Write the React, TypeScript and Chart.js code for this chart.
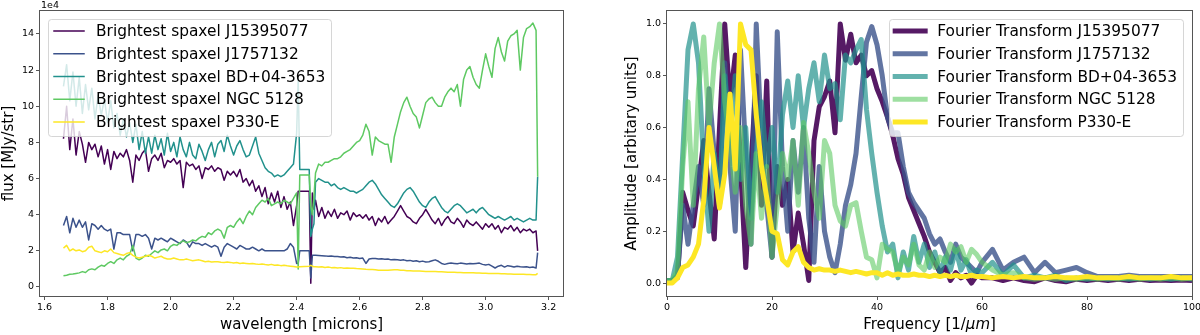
import React, { useEffect, useRef } from "react";
import { Chart, registerables } from "chart.js";
Chart.register(...registerables);

// ---------- Left panel: spectra (flux in units of 1e4 MJy/str) ----------
const wavelength = [
  1.66, 1.67, 1.68, 1.69, 1.70, 1.71, 1.72, 1.73, 1.74, 1.75,
  1.76, 1.77, 1.78, 1.79, 1.80, 1.81, 1.82, 1.83, 1.84, 1.85,
  1.86, 1.87, 1.88, 1.89, 1.90, 1.91, 1.92, 1.93, 1.94, 1.95,
  1.96, 1.97, 1.98, 1.99, 2.00, 2.01, 2.02, 2.03, 2.04, 2.05,
  2.06, 2.07, 2.08, 2.09, 2.10, 2.11, 2.12, 2.13, 2.14, 2.15,
  2.16, 2.17, 2.18, 2.19, 2.20, 2.21, 2.22, 2.23, 2.24, 2.25,
  2.26, 2.27, 2.28, 2.29, 2.30, 2.31, 2.32, 2.33, 2.34, 2.35,
  2.36, 2.37, 2.38, 2.39, 2.40,
  2.405, 2.41, 2.44, 2.445, 2.45, 2.455,
  2.46, 2.47, 2.48, 2.49, 2.50, 2.51, 2.52, 2.53, 2.54, 2.55,
  2.56, 2.57, 2.58, 2.59, 2.60, 2.61, 2.62, 2.63, 2.64, 2.65,
  2.66, 2.67, 2.68, 2.69, 2.70, 2.71, 2.72, 2.73, 2.74, 2.75,
  2.76, 2.77, 2.78, 2.79, 2.80, 2.81, 2.82, 2.83, 2.84, 2.85,
  2.86, 2.87, 2.88, 2.89, 2.90, 2.91, 2.92, 2.93, 2.94, 2.95,
  2.96, 2.97, 2.98, 2.99, 3.00, 3.01, 3.02, 3.03, 3.04, 3.05,
  3.06, 3.07, 3.08, 3.09, 3.10, 3.11, 3.12, 3.13, 3.14, 3.15,
  3.16, 3.165,
];

const fluxJ15395077 = [
  8.2, 10.0, 7.6, 9.3, 7.3, 8.6, 7.9, 6.9, 8.0, 7.6,
  7.9, 7.2, 7.8, 6.8, 7.6, 6.5, 7.5, 7.1, 7.4, 7.2,
  7.6, 7.0, 5.8, 7.3, 7.0, 7.4, 7.6, 6.4, 7.1, 7.3,
  7.0, 7.4, 6.6, 7.0, 6.9, 7.1, 6.8, 7.0, 5.5, 6.9,
  6.7, 6.8, 6.5, 6.7, 6.0, 6.6, 6.5, 6.7, 6.4, 6.6,
  6.5, 5.9, 6.4, 6.2, 6.4, 6.1, 6.5, 5.8, 6.0, 5.6,
  5.9, 5.3, 5.6, 5.0, 5.5, 4.6, 5.2, 4.7, 5.3, 4.4,
  5.0, 4.3, 4.7, 3.4, 4.5,
  5.3, 5.3, 5.3, 0.2, 5.2, 4.3,
  4.8, 3.9, 4.4, 3.8, 4.2, 3.9, 4.3, 3.8, 4.1, 4.0,
  4.2, 3.7, 4.1, 3.9, 4.0, 3.8, 4.0, 3.7, 3.9, 3.4,
  3.8, 3.6, 3.9, 3.5, 3.7, 3.9, 4.2, 4.5, 4.2, 3.9,
  3.8, 3.6, 3.5, 3.8, 4.0, 4.3, 4.0, 3.7, 3.5, 3.8,
  3.4, 3.7, 3.9, 3.6, 3.5, 3.8, 3.6, 3.3, 3.7, 3.5,
  3.4, 3.6, 3.4, 3.2, 3.5, 3.3, 3.5, 3.2, 3.4, 3.0,
  3.3, 3.2, 3.4, 3.1, 3.3, 3.0, 3.2, 3.1, 3.2, 3.0,
  3.1, 2.0,
];

const fluxJ1757132 = [
  3.4, 3.9, 3.0, 3.8, 3.3, 3.7, 3.3, 3.6, 2.6, 3.5,
  3.4, 3.2, 3.4, 3.2, 3.1, 3.2, 2.1, 3.0, 3.0, 2.9,
  2.9, 2.9, 2.0, 2.9, 2.9, 2.8, 2.9, 2.7, 2.1, 2.7,
  2.6, 2.7, 2.6, 2.5, 2.7, 2.6, 2.5, 2.4, 2.6, 2.5,
  2.2, 2.5, 2.4, 2.4, 2.3, 2.4, 2.3, 2.2, 2.3, 2.2,
  1.7, 2.2, 2.4, 2.3, 2.2, 2.1, 2.3, 2.2, 2.1, 2.1,
  2.2, 2.1, 2.0, 2.1, 2.0, 2.0, 2.0, 2.0, 2.0, 2.0,
  2.0, 2.1, 2.4, 2.2, 1.3,
  1.3, 2.0, 2.0, 0.5, 1.75, 1.75,
  1.75, 1.74, 1.73, 1.72, 1.7, 1.71, 1.69, 1.68, 1.66, 1.67,
  1.62, 1.64, 1.6, 1.62, 1.58, 1.6, 1.3, 1.55, 1.57, 1.58,
  1.55, 1.56, 1.53, 1.55, 1.5, 1.52, 1.5, 1.48, 1.5, 1.45,
  1.47, 1.42, 1.45, 1.4, 1.43, 1.38, 1.4, 1.45, 1.5, 1.42,
  1.3, 1.25, 1.3, 1.32, 1.3, 1.28, 1.32, 1.3, 1.27, 1.3,
  1.28, 1.3, 1.32, 1.25, 1.22, 1.25, 1.15, 1.05, 1.15, 1.2,
  1.1, 1.18, 1.15, 1.1, 1.15, 1.12, 1.1, 1.12, 1.08, 1.1,
  1.05, 1.9,
];

const fluxBD0403653 = [
  11.1, 12.3, 10.3, 11.9, 10.0, 11.6, 9.6, 11.2, 9.8, 11.0,
  9.3, 10.6, 9.5, 10.4, 9.1, 10.3, 8.8, 9.6, 8.4, 9.3,
  8.3, 9.1, 8.0, 9.0, 7.6, 8.6, 7.4, 8.3, 7.4, 8.4,
  7.6, 8.2, 7.3, 8.5, 7.5, 8.0, 7.2, 8.3, 7.6, 7.2,
  8.0, 7.3, 7.1, 7.9, 7.5, 7.0, 7.6, 8.0, 7.2, 7.9,
  8.1, 7.5, 8.4, 7.8, 7.3, 7.8, 8.1, 7.6, 7.2, 7.3,
  7.8, 8.3, 7.4, 7.0, 6.6, 6.4, 6.3, 6.1, 6.2, 6.1,
  6.2, 6.4, 6.6, 6.8, 8.5,
  11.5, 6.5, 6.5, 2.8, 3.2, 3.5,
  5.8, 6.0, 5.9, 5.8, 5.8, 5.6, 5.7, 5.5, 5.4, 5.5,
  5.4, 5.3, 5.3, 5.2, 5.3, 5.4, 5.6, 5.8, 5.9, 5.7,
  5.4, 5.1, 4.9, 4.7, 4.5, 4.4, 4.6, 4.9, 5.2, 5.4,
  5.5, 5.3, 5.0, 4.7, 4.5, 4.4, 4.7, 4.9, 5.0, 4.7,
  4.4, 4.2, 4.1, 4.3, 4.5, 4.6, 4.5, 4.3, 4.1, 4.2,
  4.3, 4.1, 4.3, 4.4, 4.2, 4.0, 3.9, 3.8, 3.9, 3.8,
  3.7, 3.8, 3.9, 3.7, 3.8, 3.7, 3.6, 3.7, 3.8, 3.7,
  3.7, 6.1,
];

const fluxNGC5128 = [
  0.62, 0.65, 0.7, 0.72, 0.75, 0.78, 0.85, 0.8, 0.95, 1.0,
  0.95, 1.1, 1.2, 1.15, 1.3, 1.4, 1.3, 1.5, 1.6, 1.5,
  1.7, 1.8, 2.3, 1.6, 1.5, 1.6, 1.75, 1.7, 1.85, 2.0,
  1.9, 2.05, 2.1, 2.0, 2.25, 2.35, 2.3, 2.45, 2.55, 2.45,
  2.5, 2.6, 2.55, 2.7, 2.8, 2.75, 3.0, 2.9, 3.1, 3.2,
  3.1, 2.7, 3.3, 3.4, 3.3, 3.6, 3.8, 3.5, 3.9, 4.2,
  4.0, 4.4, 4.6, 4.8, 4.7, 4.9, 4.5, 4.6, 4.7, 4.6,
  4.8, 4.7, 4.6, 4.9, 5.2,
  1.0, 6.2, 6.2, 4.5, 4.0, 5.0,
  6.3, 6.8, 6.7, 6.9, 6.9, 7.0, 7.1, 7.1, 7.2, 7.4,
  7.5, 7.6, 7.8, 8.0, 8.1, 8.4, 9.0, 8.6, 7.3, 8.3,
  8.1, 8.0, 7.9, 7.9, 6.9, 8.3, 9.0, 9.7, 10.2, 10.5,
  10.0, 9.6, 9.4, 8.8, 9.5, 10.2, 10.4, 10.5, 10.2, 10.0,
  10.0, 10.5, 10.8, 11.0, 10.8, 11.2, 10.0, 11.5, 12.0, 12.2,
  11.6, 11.2, 11.0, 12.0, 12.9, 12.2, 11.6, 13.2, 13.8, 13.0,
  12.5, 13.6, 13.9, 14.0, 14.2, 12.0, 13.8, 14.3, 14.4, 14.6,
  14.2, 6.1,
];

const fluxP330E = [
  2.15, 2.3, 2.0, 2.1, 2.0, 2.05, 1.95, 2.0, 2.2, 2.25,
  2.0, 1.95, 1.9, 2.0, 1.95, 2.1, 1.9, 1.85, 1.8, 1.75,
  1.85, 1.9, 1.75, 1.65, 1.6, 1.65, 1.7, 1.75, 1.7, 1.6,
  1.65, 1.7, 1.6, 1.55, 1.55, 1.6, 1.55, 1.5, 1.5, 1.55,
  1.5, 1.45, 1.48, 1.5, 1.45, 1.4, 1.42, 1.38, 1.4, 1.4,
  1.37, 1.35, 1.38, 1.36, 1.33, 1.35, 1.3, 1.32, 1.3, 1.28,
  1.3, 1.27, 1.25, 1.27, 1.24, 1.22, 1.25, 1.2, 1.22, 1.18,
  1.2, 1.17, 1.15, 1.13, 1.1,
  1.1, 1.12, 1.15, 1.2, 1.15, 1.12,
  1.12, 1.1, 1.12, 1.08, 1.1, 1.07, 1.08, 1.05, 1.07, 1.04,
  1.05, 1.03, 1.04, 1.02, 1.01, 1.0, 0.98, 0.97, 0.96, 0.95,
  0.92, 0.93, 0.92, 0.93, 0.94, 0.95, 0.95, 0.93, 0.92, 0.9,
  0.9, 0.89, 0.88, 0.88, 0.87, 0.86, 0.86, 0.85, 0.85, 0.84,
  0.84, 0.83, 0.82, 0.82, 0.81, 0.8, 0.8, 0.79, 0.79, 0.78,
  0.78, 0.77, 0.77, 0.76, 0.76, 0.75, 0.75, 0.74, 0.74, 0.73,
  0.73, 0.72, 0.72, 0.71, 0.71, 0.7, 0.7, 0.69, 0.69, 0.68,
  0.68, 0.75,
];

// ---------- Right panel: Fourier transforms ----------
const frequency = [
  0, 1, 2, 3, 4, 5, 6, 7, 8, 9,
  10, 11, 12, 13, 14, 15, 16, 17, 18, 19,
  20, 21, 22, 23, 24, 25, 26, 27, 28, 29,
  30, 31, 32, 33, 34, 35, 36, 37, 38, 39,
  40, 41, 42, 43, 44, 45, 46, 47, 48, 49,
  50, 51, 52, 53, 54, 55, 56, 57, 58, 59,
  60,
  62, 64, 66, 68, 70, 72, 74, 76, 78, 80,
  82, 84, 86, 88, 90, 92, 94, 96, 98, 100,
];

const ftJ15395077 = [
  0.01, 0.01, 0.02, 0.35, 0.28, 0.22, 0.38, 0.55, 0.35, 0.17,
  0.6, 1.0, 0.7, 0.88, 0.45, 0.06, 0.45, 0.8, 0.3, 0.78,
  0.1, 0.45, 0.3, 0.4, 0.12, 0.27, 0.15, 0.01, 0.55, 0.68,
  0.72, 0.78, 0.58, 1.0, 0.86, 0.96, 0.85, 0.88, 0.8, 0.82,
  0.75, 0.7, 0.64, 0.57, 0.48, 0.42, 0.33, 0.28, 0.23, 0.18,
  0.12, 0.08, 0.04, 0.06, 0.01, 0.04, 0.02, 0.03, 0.0, 0.03,
  0.02,
  0.02, 0.01, 0.02, 0.01, 0.005, 0.02, 0.01, 0.005, 0.015, 0.01,
  0.015, 0.01, 0.015, 0.01, 0.015, 0.01, 0.012, 0.01, 0.012, 0.01,
];

const ftJ1757132 = [
  0.01, 0.01, 0.03, 0.3, 0.15, 0.3, 0.45, 0.3, 0.75, 0.5,
  0.3, 0.85, 0.45, 0.2, 0.9, 0.5, 0.15, 1.0, 0.55, 0.3,
  0.1, 0.97, 0.45, 0.2, 0.55, 0.35, 0.6, 0.25, 0.08, 0.45,
  0.2, 0.1, 0.04, 0.15, 0.3, 0.38, 0.5, 0.72, 0.93, 0.99,
  0.92, 0.8, 0.64, 0.58, 0.58, 0.45, 0.35, 0.31, 0.28, 0.25,
  0.19, 0.15, 0.17, 0.12, 0.08, 0.15, 0.1, 0.08, 0.06, 0.04,
  0.08,
  0.13, 0.05, 0.08, 0.1, 0.04, 0.08, 0.04, 0.05, 0.06, 0.04,
  0.025, 0.025, 0.025, 0.03, 0.025, 0.025, 0.025, 0.025, 0.025, 0.025,
];

const ftBD0403653 = [
  0.01, 0.01, 0.1, 0.5, 0.9, 1.0, 0.85, 0.45, 0.2, 0.5,
  0.3, 0.8, 0.55, 0.8, 0.4, 0.6, 0.25, 0.5, 0.7, 0.45,
  0.6, 0.35, 0.65, 0.78, 0.6, 0.8, 0.6, 0.75, 0.85, 0.7,
  0.88, 0.75, 0.77, 0.63, 0.88, 0.85, 0.9, 0.94, 0.67, 0.5,
  0.35, 0.22, 0.12, 0.15, 0.02, 0.12, 0.05, 0.18, 0.08, 0.15,
  0.06, 0.12, 0.04, 0.1, 0.05, 0.13, 0.05, 0.09, 0.03, 0.05,
  0.04,
  0.08, 0.03, 0.07, 0.02, 0.03, 0.02, 0.03, 0.01, 0.02, 0.015,
  0.02, 0.015, 0.02, 0.015, 0.02, 0.015, 0.02, 0.015, 0.02, 0.015,
];

const ftNGC5128 = [
  0.01, 0.01, 0.05, 0.45, 0.7, 0.3, 0.75, 0.95, 0.6, 0.85,
  1.0, 0.7, 0.55, 0.35, 0.6, 0.3, 0.15, 0.5, 0.25, 0.45,
  0.1, 0.3, 0.5, 0.4, 0.55, 0.3, 0.62, 0.5, 0.35, 0.25,
  0.55, 0.5, 0.3, 0.24, 0.22, 0.3, 0.31, 0.2, 0.1, 0.09,
  0.02, 0.15, 0.13, 0.12, 0.04, 0.1, 0.07, 0.15, 0.07, 0.05,
  0.12, 0.06, 0.1, 0.08, 0.15, 0.12, 0.14, 0.08, 0.13, 0.11,
  0.08,
  0.05, 0.03, 0.04, 0.02, 0.015, 0.02, 0.015, 0.02, 0.015, 0.02,
  0.015, 0.02, 0.015, 0.02, 0.015, 0.02, 0.015, 0.02, 0.015, 0.02,
];

const ftP330E = [
  0.0, 0.0, 0.02, 0.06, 0.07, 0.1, 0.15, 0.32, 0.6, 0.45,
  0.29, 0.42, 0.73, 0.44, 1.0, 0.92, 0.9, 0.65, 0.45, 0.33,
  0.2, 0.19, 0.09, 0.07, 0.12, 0.14, 0.08, 0.06, 0.05, 0.055,
  0.05, 0.05, 0.045, 0.05, 0.045, 0.04, 0.045, 0.04, 0.035, 0.04,
  0.04, 0.03, 0.04, 0.03, 0.035, 0.03, 0.03, 0.035, 0.03, 0.03,
  0.025, 0.03, 0.025, 0.03, 0.025, 0.03, 0.025, 0.025, 0.03, 0.025,
  0.025,
  0.02, 0.025, 0.02, 0.025, 0.02, 0.02, 0.025, 0.02, 0.02, 0.025,
  0.02, 0.02, 0.02, 0.025, 0.02, 0.02, 0.02, 0.025, 0.02, 0.02,
];

const spectraLabels = [
  "Brightest spaxel J15395077",
  "Brightest spaxel J1757132",
  "Brightest spaxel BD+04-3653",
  "Brightest spaxel NGC 5128",
  "Brightest spaxel P330-E",
];
const fourierLabels = [
  "Fourier Transform J15395077",
  "Fourier Transform J1757132",
  "Fourier Transform BD+04-3653",
  "Fourier Transform NGC 5128",
  "Fourier Transform P330-E",
];
const seriesColors = ["#440154", "#3b528b", "#21918c", "#5ec962", "#fde725"];
const fourierAlpha = [0.9, 0.8, 0.7, 0.6, 1.0];

const leftXTicks = [1.6, 1.8, 2.0, 2.2, 2.4, 2.6, 2.8, 3.0, 3.2];
const leftYTicks = [0, 2, 4, 6, 8, 10, 12, 14];
const rightXTicks = [0, 20, 40, 60, 80, 100];
const rightYTicks = [0, 0.2, 0.4, 0.6, 0.8, 1.0];

const FONT = '"DejaVu Sans", Verdana, sans-serif';
const SPINE = "#555";

function rgba(hex: string, a: number) {
  const n = parseInt(hex.slice(1), 16);
  return `rgba(${(n >> 16) & 255},${(n >> 8) & 255},${n & 255},${a})`;
}

function overlayPlugin(
  labels: string[],
  colors: string[],
  lw: number,
  side: "left" | "right",
  offsetText?: string,
  italicXTitle?: [string, string, string]
) {
  return {
    id: "overlay" + side,
    afterDraw(chart: any) {
      const ctx = chart.ctx;
      const a = chart.chartArea;
      ctx.save();
      // frame
      ctx.strokeStyle = SPINE;
      ctx.lineWidth = 1;
      ctx.strokeRect(a.left - 0.5, a.top - 0.5, a.right - a.left + 1, a.bottom - a.top + 1);
      // offset text
      if (offsetText) {
        ctx.fillStyle = "#000";
        ctx.font = `9.5px ${FONT}`;
        ctx.textAlign = "left";
        ctx.textBaseline = "alphabetic";
        ctx.fillText(offsetText, a.left + 1, 8);
      }
      // x title with italic unit
      if (italicXTitle) {
        const [pre, it, post] = italicXTitle;
        const fN = `15px ${FONT}`;
        const fI = `italic 15px ${FONT}`;
        ctx.font = fN;
        const w1 = ctx.measureText(pre).width;
        const w3 = ctx.measureText(post).width;
        ctx.font = fI;
        const w2 = ctx.measureText(it).width;
        let x = (a.left + a.right) / 2 - (w1 + w2 + w3) / 2;
        const y = 325;
        ctx.fillStyle = "#000";
        ctx.textAlign = "left";
        ctx.textBaseline = "middle";
        ctx.font = fN;
        ctx.fillText(pre, x, y);
        x += w1;
        ctx.font = fI;
        ctx.fillText(it, x, y);
        x += w2;
        ctx.font = fN;
        ctx.fillText(post, x, y);
      }
      // legend
      ctx.font = `15.4px ${FONT}`;
      const maxW = Math.max(...labels.map((l) => ctx.measureText(l).width));
      const w = 48 + maxW + 6;
      const h = 117;
      const bx = side === "left" ? a.left + 8 : a.right - 9 - w;
      const by = a.top + 8;
      ctx.beginPath();
      ctx.roundRect(Math.round(bx) + 0.5, by + 0.5, Math.round(w), h, 3);
      ctx.fillStyle = "rgba(255,255,255,0.8)";
      ctx.fill();
      ctx.strokeStyle = "rgba(204,204,204,0.8)";
      ctx.lineWidth = 1;
      ctx.stroke();
      labels.forEach((lab, i) => {
        const y = by + 12 + i * 22.75;
        ctx.strokeStyle = colors[i];
        ctx.lineWidth = lw;
        ctx.lineCap = "square";
        ctx.beginPath();
        ctx.moveTo(bx + 6, y);
        ctx.lineTo(bx + 36, y);
        ctx.stroke();
        ctx.fillStyle = "#000";
        ctx.textAlign = "left";
        ctx.textBaseline = "middle";
        ctx.fillText(lab, bx + 48, y + 1);
      });
      ctx.restore();
    },
  };
}

function axisCommon(
  title: string,
  showTitle: boolean,
  ticks: number[],
  fmt: (v: number) => string,
  horizontal: boolean,
  size: number,
  titlePad: any
) {
  return {
    type: "linear",
    afterBuildTicks: (s: any) => {
      s.ticks = ticks.map((v) => ({ value: v }));
    },
    afterFit: (s: any) => {
      if (horizontal) {
        s.height = size;
        s.paddingLeft = 0;
        s.paddingRight = 0;
      } else {
        s.width = size;
        s.paddingTop = 0;
        s.paddingBottom = 0;
      }
    },
    ticks: {
      autoSkip: false,
      maxRotation: 0,
      minRotation: 0,
      color: "#000",
      padding: 2,
      font: { family: FONT, size: 9.5 },
      callback: (v: any) => fmt(Number(v)),
    },
    grid: { display: true, drawOnChartArea: false, drawTicks: true, tickLength: 4, tickColor: SPINE, tickWidth: 1 },
    border: { display: false },
    title: { display: showTitle, text: title, color: "#000", font: { family: FONT, size: 15 }, padding: titlePad },
  };
}

export default function App() {
  const leftRef = useRef<HTMLCanvasElement>(null);
  const rightRef = useRef<HTMLCanvasElement>(null);

  useEffect(() => {
    const spectra = [fluxJ15395077, fluxJ1757132, fluxBD0403653, fluxNGC5128, fluxP330E];
    const fts = [ftJ15395077, ftJ1757132, ftBD0403653, ftNGC5128, ftP330E];

    const leftChart = new Chart(leftRef.current as HTMLCanvasElement, {
      type: "line",
      data: {
        datasets: spectra.map((vals, i) => ({
          label: spectraLabels[i],
          data: wavelength.map((x, j) => ({ x, y: vals[j] })),
          borderColor: seriesColors[i],
          borderWidth: 1.5,
          pointRadius: 0,
          tension: 0,
          borderJoinStyle: "round",
          order: 5 - i,
        })),
      },
      options: {
        responsive: false,
        animation: false,
        devicePixelRatio: 1,
        layout: { padding: { left: 0, right: 37, top: 11, bottom: 0 } },
        plugins: { legend: { display: false }, tooltip: { enabled: false } },
        scales: {
          x: {
            ...axisCommon("wavelength [microns]", true, leftXTicks, (v) => v.toFixed(1), true, 39, { top: 0, bottom: 1 }),
            min: 1.5855,
            max: 3.2455,
          },
          y: {
            ...axisCommon("flux [MJy/str]", true, leftYTicks, (v) => String(v), false, 40, { top: 0, bottom: 0 }),
            min: -0.5,
            max: 15.27,
          },
        },
      } as any,
      plugins: [overlayPlugin(spectraLabels, seriesColors, 1.5, "left", "1e4")],
    } as any);

    const ftColors = seriesColors.map((c, i) => rgba(c, fourierAlpha[i]));
    const rightChart = new Chart(rightRef.current as HTMLCanvasElement, {
      type: "line",
      data: {
        datasets: fts.map((vals, i) => ({
          label: fourierLabels[i],
          data: frequency.map((x, j) => ({ x, y: vals[j] })),
          borderColor: ftColors[i],
          borderWidth: 5,
          pointRadius: 0,
          tension: 0,
          borderJoinStyle: "round",
          order: 5 - i,
        })),
      },
      options: {
        responsive: false,
        animation: false,
        devicePixelRatio: 1,
        layout: { padding: { left: 23, right: 8, top: 11, bottom: 0 } },
        plugins: { legend: { display: false }, tooltip: { enabled: false } },
        scales: {
          x: {
            ...axisCommon("Frequency [1/μm]", false, rightXTicks, (v) => String(v), true, 39, { top: 0, bottom: 1 }),
            min: 0,
            max: 100,
          },
          y: {
            ...axisCommon("Amplitude [arbitary units]", true, rightYTicks, (v) => v.toFixed(1), false, 44, { top: 0, bottom: 0 }),
            min: -0.05,
            max: 1.05,
          },
        },
      } as any,
      plugins: [overlayPlugin(fourierLabels, ftColors, 5, "right", undefined, ["Frequency [1/", "μm", "]"])],
    } as any);

    return () => {
      leftChart.destroy();
      rightChart.destroy();
    };
  }, []);

  return (
    <div style={{ position: "absolute", left: 0, top: 0, width: 1200, height: 335, background: "#fff" }}>
      <canvas ref={leftRef} width={600} height={335} style={{ position: "absolute", left: 0, top: 0, width: 600, height: 335 }} />
      <canvas ref={rightRef} width={600} height={335} style={{ position: "absolute", left: 600, top: 0, width: 600, height: 335 }} />
    </div>
  );
}
